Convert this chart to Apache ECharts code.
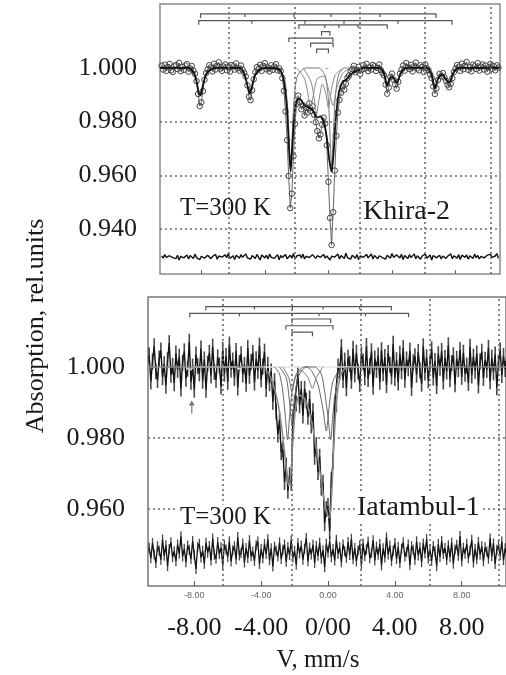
<!DOCTYPE html>
<html>
<head>
<meta charset="utf-8">
<script src="https://cdn.jsdelivr.net/npm/echarts@6.0.0/dist/echarts.min.js"></script>
<style>
  html, body { margin: 0; padding: 0; background: #fff; }
  #main { width: 506px; height: 675px; }
</style>
</head>
<body>
<div id="main"></div>
<script>
// velocity channels: v = V0 + i * V_STEP (mm/s)
var V_STEP = 0.1
var KHIRA_V0 = -10.5
var IATAMBUL_V0 = -10.7

var velTicks = [-8, -4, 0, 4, 8]
var gridV = [-6.3, -2.15, 1.95, 6.08, 10.2] // dotted verticals drawn over both spectra
var khiraYTicks = [0.94, 0.96, 0.98, 1.0]
var iatambulYTicks = [0.96, 0.98, 1.0]
var khiraHGrid = [0.98, 0.96, 0.94]
var iatambulHGrid = [0.98, 0.96]

// Khira-2 measured absorption
var khiraAbs = [
  1.0008, 0.9994, 1.0012, 0.9989, 1.0003, 1.0015, 0.9991, 0.9985, 1.0006, 1.0011,
  0.9996, 1.0019, 0.9988, 1.0004, 0.9993, 1.0009, 1.0014, 0.9986, 0.9998, 1.0007, 0.9990,
  // -8.4 .. -7.7
  0.9978, 0.9951, 0.9903, 0.9858, 0.9872, 0.9914, 0.9956, 0.9981,
  // -7.6 .. -5.3
  0.9995, 1.0010, 1.0002, 0.9987, 1.0016, 0.9994, 1.0008, 1.0021, 0.9997, 0.9989,
  1.0005, 1.0013, 0.9992, 1.0003, 0.9986, 1.0011, 1.0006, 0.9994, 1.0017, 0.9999,
  0.9990, 1.0009, 0.9993, 0.9982,
  // -5.2 .. -4.7
  0.9968, 0.9935, 0.9893, 0.9880, 0.9917, 0.9958,
  // -4.6 .. -3.0
  0.9984, 1.0003, 0.9996, 1.0012, 0.9989, 1.0007, 1.0018, 0.9995, 1.0001, 0.9987,
  1.0010, 0.9993, 1.0005, 1.0014, 0.9991, 0.9998, 0.9988,
  // -2.9 .. 1.4
  0.9962, 0.9915, 0.9838, 0.9731, 0.9598, 0.9478, 0.9532, 0.9671, 0.9792, 0.9866,
  0.9897, 0.9872, 0.9846, 0.9861, 0.9823, 0.9852, 0.9834, 0.9868, 0.9840, 0.9857,
  0.9826, 0.9798, 0.9765, 0.9738, 0.9752, 0.9789, 0.9815, 0.9793, 0.9712, 0.9576,
  0.9442, 0.9341, 0.9463, 0.9618, 0.9747, 0.9834, 0.9881, 0.9908, 0.9932, 0.9919,
  0.9941, 0.9963, 0.9972, 0.9989,
  // 1.5 .. 3.4
  0.9996, 1.0008, 0.9984, 0.9991, 1.0004, 0.9978, 0.9993, 1.0010, 0.9997, 1.0015,
  0.9988, 1.0002, 0.9994, 1.0011, 1.0006, 0.9989, 1.0000, 1.0013, 0.9992, 0.9981,
  // 3.5 .. 4.5
  0.9972, 0.9938, 0.9904, 0.9927, 0.9966, 0.9979, 0.9957, 0.9939, 0.9923, 0.9948, 0.9979,
  // 4.6 .. 6.4
  0.9994, 1.0009, 0.9990, 1.0018, 1.0003, 0.9996, 1.0012, 0.9987, 1.0006, 1.0020,
  0.9998, 0.9991, 1.0010, 1.0004, 0.9985, 1.0013, 0.9999, 0.9992, 0.9976,
  // 6.5 .. 7.9
  0.9962, 0.9931, 0.9903, 0.9924, 0.9955, 0.9978, 0.9969, 0.9981, 0.9965, 0.9952,
  0.9937, 0.9928, 0.9941, 0.9962, 0.9985,
  // 8.0 .. 10.7
  0.9997, 1.0011, 1.0004, 0.9989, 1.0016, 0.9995, 1.0008, 1.0022, 0.9993, 1.0003,
  0.9987, 1.0012, 1.0006, 0.9996, 1.0018, 0.9990, 1.0005, 1.0013, 0.9994, 1.0009,
  0.9986, 1.0002, 1.0015, 0.9997, 1.0007, 0.9991, 1.0010, 1.0001
]

// fit envelope and sub-spectra, [v, absorption]
var khiraFit = [
  [-10.6, 1.0], [-8.8, 1.0], [-8.5, 0.9985], [-8.3, 0.995], [-8.15, 0.9905], [-8.05, 0.9898], [-7.9, 0.9935],
  [-7.7, 0.9975], [-7.4, 0.9995], [-7.0, 1.0], [-5.6, 1.0], [-5.3, 0.9978], [-5.1, 0.9935], [-4.95, 0.9905],
  [-4.8, 0.9935], [-4.6, 0.9975], [-4.3, 0.9995], [-4.0, 1.0], [-3.1, 0.9995], [-2.8, 0.995], [-2.6, 0.984],
  [-2.48, 0.97], [-2.38, 0.9614], [-2.28, 0.97], [-2.15, 0.982], [-2.0, 0.988], [-1.8, 0.9885], [-1.5, 0.986],
  [-1.15, 0.985], [-0.9, 0.9835], [-0.74, 0.9815], [-0.5, 0.982], [-0.3, 0.98], [-0.1, 0.974], [0.05, 0.966],
  [0.2, 0.9614], [0.32, 0.968], [0.45, 0.98], [0.65, 0.9905], [0.9, 0.995], [1.1, 0.9955], [1.4, 0.9975],
  [1.8, 0.999], [2.2, 1.0], [3.2, 1.0], [3.5, 0.998], [3.7, 0.9935], [3.9, 0.9965], [4.05, 0.9965], [4.3, 0.9945],
  [4.55, 0.998], [4.9, 1.0], [6.2, 1.0], [6.5, 0.9975], [6.7, 0.9925], [6.9, 0.996], [7.15, 0.9975], [7.6, 0.9945],
  [7.85, 0.998], [8.2, 1.0], [10.8, 1.0]
]
var khiraD1 = [
  [-3.2, 1.0], [-2.8, 0.997], [-2.6, 0.988], [-2.48, 0.975], [-2.38, 0.9635], [-2.28, 0.975], [-2.16, 0.988],
  [-1.95, 0.997], [-1.4, 1.0], [-0.6, 1.0], [-0.2, 0.997], [0.0, 0.988], [0.1, 0.975], [0.2, 0.9635],
  [0.3, 0.975], [0.42, 0.988], [0.62, 0.997], [1.0, 1.0], [1.5, 1.0]
]
var khiraD2 = [
  [-2.0, 1.0], [-1.5, 0.996], [-1.25, 0.989], [-1.12, 0.985], [-0.98, 0.989], [-0.7, 0.996], [-0.3, 0.997],
  [0.05, 0.991], [0.3, 0.986], [0.5, 0.992], [0.9, 0.998], [1.4, 1.0]
]
var khiraD3 = [
  [-1.6, 1.0], [-1.1, 0.995], [-0.88, 0.988], [-0.74, 0.983], [-0.6, 0.988], [-0.37, 0.994], [-0.15, 0.99],
  [0.0, 0.985], [0.14, 0.99], [0.4, 0.997], [0.9, 1.0]
]
// residual, 1e-4 rel. units
var khiraResid = [
  3, -5, 8, -2, -9, 4, 11, -3, 1, -7, 6, -12, 2, 9, -4, -1, 7, -8, 5, 0,
  -6, 10, -3, 4, -11, 2, 8, -5, -2, 6, 13, -7, 1, -4, 9, -9, 3, 5, -1, -8,
  7, -3, 12, -6, 0, 4, -10, 6, 2, -5, 8, -2, -7, 11, -4, 3, -9, 5, 1, -6,
  9, -1, -12, 7, 3, -4, 6, -8, 10, -2, 4, -6, 1, 8, -11, 5, -3, 2, 9, -7,
  0, 6, -5, 12, -9, 3, -1, 7, -4, 10, -8, 2, 5, -3, -10, 8, 1, -6, 4, 11,
  -2, -7, 9, -5, 3, 6, -12, 2, 7, -1, -4, 10, -8, 5, 0, -6, 13, -3, 4, -9,
  6, 1, -5, 8, -11, 3, 7, -2, -6, 9, -4, 2, 11, -8, 5, -1, -7, 4, 10, -3,
  0, -9, 6, 3, -5, 12, -2, -8, 7, 1, -4, 9, -10, 5, 2, -6, 8, -3, -1, 11,
  -7, 4, 6, -9, 3, -2, 10, -5, 1, 7, -12, 5, 8, -4, -1, 6, -8, 3, 9, -6,
  2, -3, 11, -7, 4, 0, -5, 8, -10, 6, 3, -2, 7, -9, 4, 1, -6, 10, -3, 5,
  -8, 2, 7, -4, -11, 6, 0, 9, -2, -7, 3, 12, -5
]
// line position markers above the spectrum
var khiraBars = [
  { level: 1.0201, lines: [-8.05, -5.26, -2.17, 0.16, 3.24, 6.77] },
  { level: 1.0176, lines: [-8.16, -4.82, -1.48, 0.98, 4.38, 7.78] },
  { level: 1.0160, lines: [-1.86, -0.22, 0.66, 1.86, 3.7] },
  { level: 1.0135, lines: [-0.43, 0.09] },
  { level: 1.0111, lines: [-2.49, 0.28] },
  { level: 1.0092, lines: [-1.12, 0.3] },
  { level: 1.0070, lines: [-0.74, 0.0] }
]

// Iatambul-1 measured absorption
var iatambulAbs = [
  1.0032, 0.9959, 1.0015, 1.0058, 0.9988, 0.9963, 1.0024, 1.0046, 0.9971, 1.0008,
  0.9947, 1.0019, 1.0067, 0.9978, 1.0003, 0.9954, 1.0038, 0.9992, 1.0029, 0.9939,
  1.0012, 1.0044, 0.9967, 0.9995, 1.0071, 0.9958, 1.0001, 0.9936, 1.0035, 1.0002,
  0.9982, 1.0052, 0.9961, 1.0021, 0.9936, 1.0009, 1.0040, 0.9976, 1.0057, 0.9986,
  0.9964, 1.0027, 1.0004, 0.9945, 1.0048, 0.9981, 1.0031, 0.9958, 1.0063, 0.9993,
  1.0018, 0.9969, 1.0045, 0.9942, 1.0011, 1.0036, 0.9979, 1.0006, 0.9953, 1.0053,
  0.9975, 1.0014, 1.0039, 0.9956, 1.0022, 0.9989, 1.0060, 0.9965, 1.0001, 1.0043,
  // -3.7 .. 1.2
  0.9938, 1.0006, 0.9954, 0.9987, 0.9902, 0.9960, 0.9874, 0.9810, 0.9850, 0.9760,
  0.9767, 0.9676, 0.9722, 0.9651, 0.9695, 0.9674, 0.9853, 0.9897, 0.9897, 0.9979,
  0.9892, 0.9938, 0.9863, 0.9938, 0.9905, 0.9860, 0.9911, 0.9835, 0.9875, 0.9747,
  0.9780, 0.9704, 0.9747, 0.9660, 0.9674, 0.9560, 0.9600, 0.9608, 0.9538, 0.9682,
  0.9733, 0.9893, 0.9895, 1.0001, 0.9987, 1.0056, 0.9963, 1.0018, 0.9940, 1.0026,
  // 1.3 .. 10.7
  1.0009, 0.9961, 1.0051, 0.9979, 1.0040, 0.9987, 0.9952, 1.0035, 1.0015, 0.9971,
  1.0059, 0.9966, 1.0002, 1.0044, 0.9944, 1.0024, 0.9992, 1.0032, 0.9958, 1.0047,
  0.9982, 1.0028, 0.9949, 1.0039, 1.0006, 0.9973, 1.0065, 0.9969, 1.0019, 0.9956,
  1.0037, 0.9988, 1.0053, 0.9964, 1.0021, 0.9996, 1.0046, 0.9941, 1.0013, 1.0030,
  0.9978, 1.0042, 0.9991, 0.9953, 1.0058, 0.9984, 1.0027, 0.9962, 1.0008, 1.0050,
  0.9970, 1.0017, 0.9946, 1.0036, 0.9998, 1.0045, 0.9959, 1.0025, 0.9987, 1.0061,
  0.9965, 1.0011, 1.0033, 0.9951, 1.0023, 0.9994, 1.0048, 0.9972, 1.0040, 0.9981,
  1.0004, 0.9955, 1.0057, 0.9976, 1.0029, 0.9989, 1.0038, 0.9948, 1.0016, 1.0043,
  0.9969, 1.0020, 0.9992, 1.0054, 0.9960, 1.0026, 0.9985, 1.0035, 0.9943, 1.0012,
  1.0047, 0.9977, 1.0031, 0.9994, 1.0022
]
var iatambulFit = [
  [-10.8, 1.0], [-4.0, 1.0], [-3.6, 0.9985], [-3.3, 0.9955], [-3.0, 0.99], [-2.8, 0.984], [-2.6, 0.976],
  [-2.45, 0.969], [-2.35, 0.9665], [-2.22, 0.97], [-2.1, 0.979], [-1.95, 0.988], [-1.7, 0.992], [-1.4, 0.991],
  [-1.1, 0.987], [-0.8, 0.98], [-0.5, 0.971], [-0.25, 0.963], [-0.05, 0.9585], [0.1, 0.9575], [0.22, 0.964],
  [0.35, 0.978], [0.5, 0.99], [0.7, 0.9965], [1.0, 0.9995], [1.5, 1.0], [10.8, 1.0]
]
var iatambulC1 = [
  [-3.2, 1.0], [-2.9, 0.998], [-2.7, 0.993], [-2.55, 0.986], [-2.42, 0.9795], [-2.3, 0.986], [-2.15, 0.993],
  [-1.9, 0.998], [-1.4, 1.0], [-0.8, 1.0], [-0.4, 0.998], [-0.2, 0.993], [0.0, 0.986], [0.16, 0.9795],
  [0.28, 0.986], [0.45, 0.993], [0.7, 0.998], [1.2, 1.0]
]
var iatambulC2 = [
  [-2.9, 1.0], [-2.5, 0.997], [-2.3, 0.99], [-2.16, 0.984], [-2.02, 0.99], [-1.8, 0.997], [-1.3, 1.0],
  [-1.0, 0.999], [-0.6, 0.995], [-0.3, 0.988], [-0.1, 0.982], [0.05, 0.988], [0.3, 0.996], [0.8, 1.0]
]
var iatambulC3 = [
  [-2.7, 1.0], [-2.35, 0.997], [-2.16, 0.993], [-1.95, 0.997], [-1.6, 0.999], [-1.2, 0.997], [-0.93, 0.994],
  [-0.7, 0.997], [-0.3, 1.0]
]
var iatambulSextet = [
  [-8.5, 1.0], [-8.27, 0.9992], [-8.0, 1.0], [-5.5, 1.0], [-5.3, 0.9994], [-5.1, 1.0], [3.0, 1.0], [5.0, 1.0]
]
var iatambulResid = [
  12, -18, 25, -7, -31, 16, 4, -22, 35, -11, 19, -40, 8, 27, -15, 2, -26, 21, -5, 44,
  -13, 9, -29, 18, 6, -20, 31, -9, -48, 14, 23, -16, 3, -33, 26, -2, 17, -24, 38, -8,
  -19, 28, -6, 13, -37, 20, 7, -14, 30, -27, 5, 16, -21, 42, -10, -3, 24, -30, 11, -17,
  33, -12, 1, -25, 19, 29, -34, 8, -18, 22, -6, 36, -23, 10, -41, 15, 4, -13, 27, -20,
  6, 21, -28, 14, -9, 32, -16, 3, -36, 25, -4, 18, -22, 9, 39, -26, 12, -7, 20, -31,
  17, -11, 26, -19, 5, -43, 23, -2, 30, -15, 8, -24, 34, -6, 13, -29, 21, 2, -17, 28,
  -9, 37, -21, 11, -27, 4, 19, -35, 24, -12, 7, 29, -18, -3, 33, -24, 15, -8, 22, -38,
  10, -16, 41, -7, 18, -26, 3, 25, -20, 14, -32, 9, 27, -13, -1, 21, -37, 16, 6, -22,
  30, -10, 13, -29, 24, -4, 36, -19, 8, -25, 17, 2, -40, 22, -14, 31, -6, 11, -23, 19,
  -15, 26, -33, 7, 20, -11, 45, -27, 12, -5, 23, -18, 4, 34, -30, 9, -21, 28, -8, 16,
  -26, 13, 1, -19, 38, -12, 24, -34, 6, 18, -9, 29, -23, 10, -4
]
var iatambulBars = [
  { level: 1.0170, lines: [-7.31, -4.4, -2.13, -0.3, 1.9, 3.79] },
  { level: 1.0151, lines: [-8.27, -5.3, -2.16, -0.54, 2.24, 4.82] },
  { level: 1.0135, lines: [-2.16, 0.16] },
  { level: 1.0116, lines: [-2.52, 0.3] },
  { level: 1.0098, lines: [-2.16, -0.93] }
]
var iatambulArrow = [-8.15, 0.9887]

// residuals are drawn shifted under each spectrum
var KHIRA_RESID_BASE = 0.9297
var IATAMBUL_RESID_BASE = 0.9479

var SERIF = '"Liberation Serif", "Times New Roman", serif'

function toPoints(vals, v0) {
  return vals.map(function (y, i) { return [+(v0 + i * V_STEP).toFixed(2), y] })
}
function toResid(vals, v0, base) {
  return vals.map(function (r, i) { return [+(v0 + i * V_STEP).toFixed(2), base + r / 1e4] })
}

function barSeries(bars, xi, yi) {
  return {
    type: 'custom', xAxisIndex: xi, yAxisIndex: yi, z: 3, silent: true,
    data: bars.map(function (b) { return [b.lines[0], b.level] }),
    renderItem: function (params, api) {
      var b = bars[params.dataIndex]
      var p = b.lines.map(function (v) { return api.coord([v, b.level]) })
      var a = p[0], z = p[p.length - 1]
      var st = { stroke: '#555', fill: null, lineWidth: 1.2 }
      var children = [{
        type: 'polyline',
        shape: { points: [[a[0], a[1] + 4], [a[0], a[1]], [z[0], z[1]], [z[0], z[1] + 4]] },
        style: st
      }]
      p.slice(1, -1).forEach(function (q) {
        children.push({ type: 'line', shape: { x1: q[0], y1: q[1], x2: q[0], y2: q[1] + 3 }, style: st })
      })
      return { type: 'group', children: children }
    }
  }
}

function gridLines(xi, yi, hLines, dummy) {
  return {
    type: 'line', xAxisIndex: xi, yAxisIndex: yi, z: 1, silent: true,
    data: dummy, showSymbol: false, lineStyle: { opacity: 0 },
    markLine: {
      symbol: ['none', 'none'], silent: true, animation: false,
      label: { show: false },
      lineStyle: { color: '#6d6d6d', type: [2, 3], width: 1.6 },
      data: gridV.map(function (v) { return { xAxis: v } })
        .concat(hLines.map(function (y) { return { yAxis: y } }))
    }
  }
}

function fitLine(data, xi, yi, color, width, z) {
  return {
    type: 'line', xAxisIndex: xi, yAxisIndex: yi, data: data, smooth: 0.25,
    showSymbol: false, silent: true, z: z,
    lineStyle: { color: color, width: width }
  }
}

var myChart = echarts.init(document.getElementById('main'))
var option = {
  animation: false,
  backgroundColor: '#fff',
  grid: [
    { left: 160, top: 4, width: 340, height: 270, show: true, borderColor: '#8a8a8a', borderWidth: 1.5 },
    { left: 148, top: 297, width: 360, height: 289, show: true, borderColor: '#777', borderWidth: 1.5 }
  ],
  xAxis: [
    {
      gridIndex: 0, type: 'value', min: -10.6, max: 10.8,
      axisLine: { show: false }, splitLine: { show: false },
      axisLabel: { show: false },
      axisTick: { show: true, inside: true, length: 4, customValues: velTicks, lineStyle: { color: '#666' } }
    },
    {
      gridIndex: 1, type: 'value', min: -10.77, max: 10.65,
      axisLine: { show: false }, splitLine: { show: false },
      axisTick: { show: true, inside: true, length: 5, customValues: velTicks, lineStyle: { color: '#555' } },
      axisLabel: {
        customValues: velTicks, margin: 5, fontSize: 9, color: '#666', fontFamily: 'Liberation Sans',
        formatter: function (v) { return v.toFixed(2) }
      }
    },
    {
      gridIndex: 1, type: 'value', min: -10.77, max: 10.65, position: 'bottom',
      axisLine: { show: false }, splitLine: { show: false }, axisTick: { show: false },
      axisLabel: {
        customValues: velTicks, margin: 29, fontSize: 26, color: '#1a1a1a', fontFamily: SERIF,
        formatter: function (v) { return v === 0 ? '0/00' : v.toFixed(2) }
      }
    }
  ],
  yAxis: [
    {
      gridIndex: 0, type: 'value', min: 0.9233, max: 1.0238,
      axisLine: { show: false }, splitLine: { show: false },
      axisTick: { show: true, length: 3, customValues: khiraYTicks, lineStyle: { color: '#999' } },
      axisLabel: {
        customValues: khiraYTicks, margin: 23, fontSize: 26, color: '#1a1a1a', fontFamily: SERIF,
        formatter: function (v) { return v.toFixed(3) }
      }
    },
    {
      gridIndex: 1, type: 'value', min: 0.9383, max: 1.0197,
      axisLine: { show: false }, splitLine: { show: false }, axisTick: { show: false },
      axisLabel: {
        customValues: iatambulYTicks, margin: 23, fontSize: 26, color: '#1a1a1a', fontFamily: SERIF,
        formatter: function (v) { return v.toFixed(3) }
      }
    }
  ],
  series: [
    // ---- Khira-2
    gridLines(0, 0, khiraHGrid, khiraFit),
    {
      // open circles joined by a thin trace
      type: 'line', xAxisIndex: 0, yAxisIndex: 0, z: 2, silent: true,
      data: toPoints(khiraAbs, KHIRA_V0),
      showSymbol: true, showAllSymbol: true, symbol: 'circle', symbolSize: 5.5,
      lineStyle: { color: '#555', width: 0.9 },
      itemStyle: { color: 'rgba(255,255,255,0)', borderColor: '#444', borderWidth: 1 }
    },
    fitLine(khiraD1, 0, 0, '#777', 1, 3),
    fitLine(khiraD2, 0, 0, '#888', 1, 3),
    fitLine(khiraD3, 0, 0, '#888', 1, 3),
    fitLine(khiraFit, 0, 0, '#111', 1.8, 4),
    {
      type: 'line', xAxisIndex: 0, yAxisIndex: 0, z: 3, silent: true, showSymbol: false,
      data: toResid(khiraResid, KHIRA_V0, KHIRA_RESID_BASE),
      lineStyle: { color: '#111', width: 1.4 }
    },
    barSeries(khiraBars, 0, 0),

    // ---- Iatambul-1
    gridLines(1, 1, iatambulHGrid, iatambulFit),
    {
      type: 'line', xAxisIndex: 1, yAxisIndex: 1, z: 2, silent: true, showSymbol: false,
      data: toPoints(iatambulAbs, IATAMBUL_V0),
      lineStyle: { color: '#111', width: 1.4 },
      markPoint: {
        silent: true, animation: false, label: { show: false },
        itemStyle: { color: '#777' },
        data: [{
          coord: iatambulArrow, symbolSize: [6, 13],
          symbol: 'path://M5,0 L10,6 L6,6 L6,16 L4,16 L4,6 L0,6 Z'
        }]
      }
    },
    {
      type: 'scatter', xAxisIndex: 1, yAxisIndex: 1, z: 2, silent: true,
      data: toPoints(iatambulAbs, IATAMBUL_V0),
      symbol: 'rect', symbolSize: [1.6, 16],
      itemStyle: { color: '#1a1a1a' }
    },
    fitLine(iatambulSextet, 1, 1, '#e2e2e2', 1.5, 3),
    fitLine(iatambulC1, 1, 1, '#666', 1, 3),
    fitLine(iatambulC2, 1, 1, '#666', 1, 3),
    fitLine(iatambulC3, 1, 1, '#777', 1, 3),
    fitLine(iatambulFit, 1, 1, '#8a8a8a', 1.5, 4),
    {
      type: 'line', xAxisIndex: 1, yAxisIndex: 1, z: 3, silent: true, showSymbol: false,
      data: toResid(iatambulResid, IATAMBUL_V0, IATAMBUL_RESID_BASE),
      lineStyle: { color: '#111', width: 1.3 }
    },
    {
      type: 'scatter', xAxisIndex: 1, yAxisIndex: 1, z: 3, silent: true,
      data: toResid(iatambulResid, IATAMBUL_V0, IATAMBUL_RESID_BASE),
      symbol: 'rect', symbolSize: [1.3, 10],
      itemStyle: { color: '#1a1a1a' }
    },
    barSeries(iatambulBars, 1, 1)
  ],
  graphic: [
    {
      type: 'text', x: 36, y: 326, rotation: Math.PI / 2, z: 100,
      style: { text: 'Absorption, rel.units', font: '26px ' + SERIF, fill: '#1a1a1a', textAlign: 'center', textVerticalAlign: 'middle' }
    },
    {
      type: 'text', x: 180, y: 208, z: 100,
      style: { text: 'T=300 K', font: '25px ' + SERIF, fill: '#1a1a1a', textVerticalAlign: 'middle' }
    },
    {
      type: 'text', x: 363, y: 212, z: 100,
      style: { text: 'Khira-2', font: '28px ' + SERIF, fill: '#1a1a1a', textVerticalAlign: 'middle' }
    },
    {
      type: 'text', x: 178, y: 517, z: 100,
      style: { text: 'T=300 K', font: '25px ' + SERIF, fill: '#1a1a1a', textVerticalAlign: 'middle', backgroundColor: '#fff', padding: [0, 2] }
    },
    {
      type: 'text', x: 355, y: 508, z: 100,
      style: { text: 'Iatambul-1', font: '28px ' + SERIF, fill: '#1a1a1a', textVerticalAlign: 'middle', backgroundColor: '#fff', padding: [0, 2] }
    },
    {
      type: 'text', x: 318, y: 660, z: 100,
      style: { text: 'V, mm/s', font: '25px ' + SERIF, fill: '#1a1a1a', textAlign: 'center', textVerticalAlign: 'middle' }
    }
  ]
}
myChart.setOption(option)
</script>
</body>
</html>
